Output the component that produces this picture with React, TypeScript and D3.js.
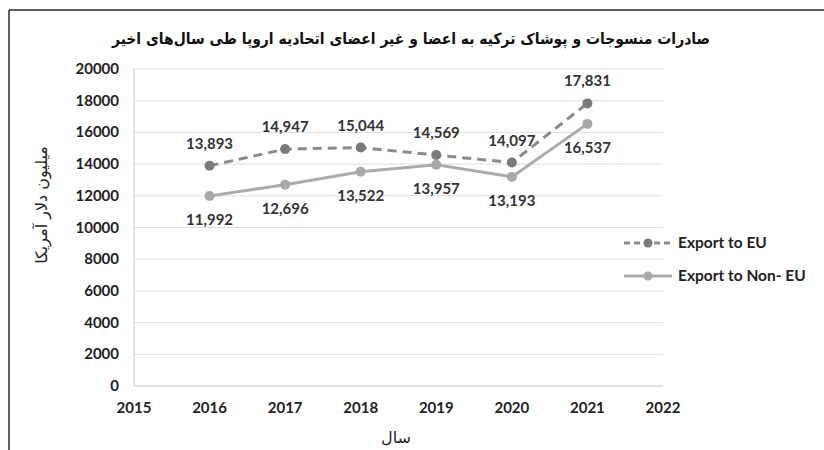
import * as d3 from 'd3'
import { useEffect, useRef } from 'react'

const years = [2016, 2017, 2018, 2019, 2020, 2021]
const exportEU = [13893, 14947, 15044, 14569, 14097, 17831]
const exportNonEU = [11992, 12696, 13522, 13957, 13193, 16537]
const yTicks = [0, 2000, 4000, 6000, 8000, 10000, 12000, 14000, 16000, 18000, 20000]
const xTicks = [2015, 2016, 2017, 2018, 2019, 2020, 2021, 2022]
const seriesNames = ['Export to EU', 'Export to Non- EU']

const title = 'صادرات منسوجات و پوشاک ترکیه به اعضا و غیر اعضای اتحادیه اروپا طی سال‌های اخیر'
const yTitle = 'میلیون دلار آمریکا'
const xTitle = 'سال'

const W = 824
const H = 450
const numFont = 'Lato, "Open Sans", sans-serif'
const faFont = '"DejaVu Sans", "Noto Sans", sans-serif'
const faTitleFont = '"DejaVu Sans Condensed", "DejaVu Sans", sans-serif'

export default function App() {
  const ref = useRef<SVGSVGElement>(null)

  useEffect(() => {
    if (!ref.current) return
    const svg = d3.select(ref.current)
    svg.selectAll('*').remove()

    const x = d3.scaleLinear().domain([2015, 2022]).range([134, 663])
    const y = d3.scaleLinear().domain([0, 20000]).range([386, 69])

    // frame lines of the cropped picture
    svg.append('line').attr('x1', 9).attr('x2', W).attr('y1', 10).attr('y2', 10)
      .attr('stroke', '#2b2b2b').attr('stroke-width', 1.5)
    svg.append('line').attr('x1', 9).attr('x2', 9).attr('y1', 10).attr('y2', H)
      .attr('stroke', '#2b2b2b').attr('stroke-width', 1.5)

    svg.append('text')
      .attr('x', 411).attr('y', 44)
      .attr('text-anchor', 'middle')
      .attr('direction', 'rtl')
      .style('font-family', faTitleFont)
      .style('font-weight', 'bold')
      .style('font-size', '15.5px')
      .attr('fill', '#111')
      .text(title)

    // grid
    svg.append('g').selectAll('line').data(yTicks).join('line')
      .attr('x1', x(2015)).attr('x2', x(2022))
      .attr('y1', (d) => y(d)).attr('y2', (d) => y(d))
      .attr('stroke', (d) => (d === 0 ? '#c8c8c8' : '#dedede'))
      .attr('stroke-width', 1)
    svg.append('line').attr('x1', x(2015)).attr('x2', x(2015)).attr('y1', y(20000)).attr('y2', y(0))
      .attr('stroke', '#c8c8c8')

    svg.append('g').selectAll('text').data(yTicks).join('text')
      .attr('x', 119).attr('y', (d) => y(d) + 5)
      .attr('text-anchor', 'end')
      .style('font-family', numFont).style('font-weight', 'bold').style('font-size', '15px')
      .attr('fill', '#222')
      .text((d) => String(d))

    svg.append('g').selectAll('text').data(xTicks).join('text')
      .attr('x', (d) => x(d)).attr('y', 413)
      .attr('text-anchor', 'middle')
      .style('font-family', numFont).style('font-weight', 'bold').style('font-size', '15px')
      .attr('fill', '#222')
      .text((d) => String(d))

    svg.append('text')
      .attr('transform', 'translate(47,205) rotate(-90)')
      .attr('text-anchor', 'middle').attr('direction', 'rtl')
      .style('font-family', faFont).style('font-size', '16px')
      .attr('fill', '#222')
      .text(yTitle)

    svg.append('text')
      .attr('x', 396).attr('y', 443)
      .attr('text-anchor', 'middle').attr('direction', 'rtl')
      .style('font-family', faFont).style('font-size', '16px')
      .attr('fill', '#222')
      .text(xTitle)

    const series = [
      { name: seriesNames[0], values: exportEU, line: '#8a8a8a', dot: '#7a7a7a', dash: '9,6', dy: -17 },
      { name: seriesNames[1], values: exportNonEU, line: '#ababab', dot: '#a8a8a8', dash: null, dy: 29 },
    ]
    const fmt = d3.format(',')

    series.forEach((s) => {
      const pts = years.map((yr, i) => [yr, s.values[i]] as [number, number])
      const line = d3.line<[number, number]>().x((d) => x(d[0])).y((d) => y(d[1]))
      svg.append('path').datum(pts)
        .attr('fill', 'none').attr('stroke', s.line).attr('stroke-width', 3)
        .attr('stroke-dasharray', s.dash)
        .attr('d', line)
      svg.append('g').selectAll('circle').data(pts).join('circle')
        .attr('cx', (d) => x(d[0])).attr('cy', (d) => y(d[1])).attr('r', 5)
        .attr('fill', s.dot)
      svg.append('g').selectAll('text').data(pts).join('text')
        .attr('x', (d) => x(d[0])).attr('y', (d) => y(d[1]) + s.dy)
        .attr('text-anchor', 'middle')
        .style('font-family', numFont).style('font-weight', 'bold').style('font-size', '15px')
        .attr('fill', '#333')
        .text((d) => fmt(d[1]))
    })

    // legend
    const lg = svg.append('g')
    series.forEach((s, i) => {
      const ly = 243 + i * 33
      lg.append('line').attr('x1', 624).attr('x2', 672).attr('y1', ly).attr('y2', ly)
        .attr('stroke', s.line).attr('stroke-width', 3).attr('stroke-dasharray', s.dash ? '6,4' : null)
      lg.append('circle').attr('cx', 648).attr('cy', ly).attr('r', 4.5).attr('fill', s.dot)
      lg.append('text').attr('x', 678).attr('y', ly + 5)
        .style('font-family', numFont).style('font-weight', 'bold').style('font-size', '15.5px')
        .attr('fill', '#222')
        .text(s.name)
    })
  }, [])

  return (
    <svg ref={ref} width={W} height={H}
      style={{ position: 'fixed', left: 0, top: 0, display: 'block', background: '#fff' }} />
  )
}
